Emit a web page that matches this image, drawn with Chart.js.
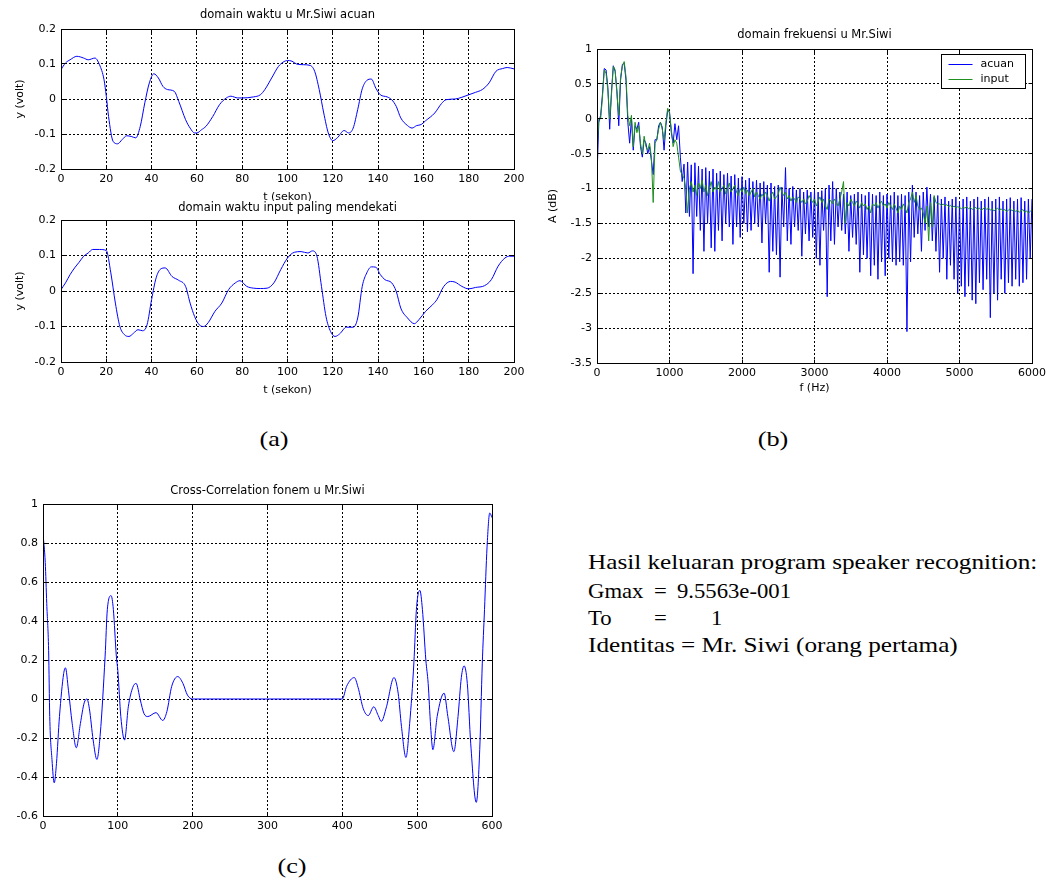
<!DOCTYPE html>
<html><head><meta charset="utf-8">
<script src="https://cdn.jsdelivr.net/npm/chart.js@4.4.0/dist/chart.umd.min.js"></script>
<style>
html,body{margin:0;padding:0;background:#fff;}
body{width:1050px;height:881px;position:relative;overflow:hidden;font-family:'Liberation Serif','Times New Roman',serif;color:#000;}
.box{position:absolute;}
.box canvas{display:block;}
.t{position:absolute;font-size:21px;line-height:28px;white-space:pre;transform-origin:0 50%;transform:scaleX(1.2);}
.t.n{transform:scaleX(1.08);}
.lab{position:absolute;font-size:21px;line-height:28px;white-space:pre;transform:translate(-50%,-50%) scaleX(1.25);}
</style></head>
<body>
<div class="box" id="wa1" style="left:0;top:0;width:530px;height:205px"><canvas id="ca1" width="530" height="205"></canvas></div>
<div class="box" id="wa2" style="left:0;top:201px;width:530px;height:196px;background:#fff"><canvas id="ca2" width="530" height="196"></canvas></div>
<div class="box" id="wb" style="left:540px;top:20px;width:510px;height:375px"><canvas id="cb" width="510" height="375"></canvas></div>
<div class="box" id="wc" style="left:0;top:476px;width:508px;height:364px"><canvas id="cc" width="508" height="364"></canvas></div>

<div class="lab" style="left:273.5px;top:439px">(a)</div>
<div class="lab" style="left:773px;top:439px">(b)</div>
<div class="lab" style="left:292px;top:866px">(c)</div>

<div class="t" style="left:588px;top:548px">Hasil keluaran program speaker recognition:</div>
<div class="t n" style="left:588px;top:577px">Gmax</div>
<div class="t n" style="left:654px;top:577px">=</div>
<div class="t n" style="left:677px;top:577px">9.5563e-001</div>
<div class="t n" style="left:588px;top:604px">To</div>
<div class="t n" style="left:654px;top:604px">=</div>
<div class="t n" style="left:711px;top:604px">1</div>
<div class="t" style="left:588px;top:631px">Identitas = Mr. Siwi (orang pertama)</div>

<script>
// ---------------- DATA ----------------
// (a) top: domain waktu u Mr.Siwi acuan
const tAcuan = [0,2,4,7,10,12,15,17,19,20,21,23,25,27,29,31,33,35,37,39,41,43,45,47,50,52,55,57,59,60,62,64,67,70,73,75,78,80,85,88,90,93,96,98,100,102,104,107,110,112,114,116,118,120,122,125,127,129,131,133,135,137,139,141,144,146,148,150,153,155,157,159,161,165,168,170,174,177,180,183,186,189,192,195,197,200];
const vAcuan = [0.084,0.103,0.112,0.122,0.117,0.112,0.117,0.098,0.055,0.008,-0.05,-0.121,-0.128,-0.116,-0.105,-0.107,-0.111,-0.078,-0.011,0.046,0.072,0.06,0.036,0.027,0.022,-0.007,-0.059,-0.083,-0.097,-0.097,-0.088,-0.078,-0.05,-0.016,0.003,0.008,0.003,0.003,0.006,0.012,0.027,0.06,0.093,0.105,0.11,0.108,0.1,0.098,0.096,0.079,0.027,-0.04,-0.097,-0.119,-0.111,-0.09,-0.097,-0.083,-0.03,0.029,0.053,0.057,0.031,0.012,0.006,-0.002,-0.021,-0.054,-0.076,-0.083,-0.076,-0.073,-0.062,-0.04,-0.013,-0.002,0,0.005,0.012,0.019,0.027,0.046,0.079,0.087,0.09,0.086];
// (a) bottom: domain waktu input paling mendekati
const tInput = [0,2,4,6,8,10,12,14,17,20,22,24,26,28,30,32,34,36,38,40,42,44,46,49,52,55,57,59,61,63,65,68,71,74,77,79,82,85,88,91,94,97,100,103,106,109,111,113,115,117,119,121,123,126,129,131,133,135,137,139,141,143,146,148,150,153,156,158,161,164,166,169,172,174,177,180,183,187,190,193,196,198,200];
const vInput = [0.004,0.023,0.046,0.065,0.081,0.098,0.107,0.117,0.117,0.114,0.051,-0.034,-0.1,-0.123,-0.128,-0.119,-0.109,-0.112,-0.095,-0.024,0.037,0.062,0.065,0.041,0.03,0.013,-0.034,-0.072,-0.095,-0.1,-0.089,-0.057,-0.034,0.004,0.023,0.029,0.013,0.008,0.007,0.008,0.023,0.06,0.093,0.109,0.111,0.107,0.113,0.098,0.013,-0.072,-0.114,-0.128,-0.121,-0.102,-0.102,-0.076,0.013,0.051,0.068,0.067,0.046,0.032,0.023,-0.001,-0.048,-0.076,-0.092,-0.081,-0.057,-0.039,-0.024,0.013,0.027,0.025,0.013,0.006,0.01,0.015,0.032,0.07,0.093,0.098,0.098];

// (b) domain frekuensi: frequency grid 0..6000 Hz, 25 Hz spacing
const freqStep = 25;
const specAcuan = [
-0.83,-0.05,0.05,0.35,0.72,0.70,0.45,-0.15,0.40,0.76,0.68,0.40,-0.10,0.55,0.78,0.80,0.55,-0.05,-0.35,0.00,-0.45,-0.10,-0.15,-0.05,-0.40,-0.55,-0.30,-0.35,-0.50,-0.40,-0.60,-0.80,-0.30,-0.30,-0.10,-0.05,-0.12,-0.45,-0.10,0.12,0.10,-0.20,-0.35,-0.07,-0.30,-0.10,-0.55,-0.90,
-0.65,-1.35,-0.62,-1.40,-0.66,-2.22,-0.63,-1.40,-0.68,-1.60,-0.72,-1.90,-0.70,-1.50,-0.75,-1.85,-0.72,-1.90,-0.78,-1.60,-0.75,-1.75,-0.80,-1.50,-0.78,-1.55,-0.82,-1.80,-0.80,-1.55,-0.85,-1.70,
-0.83,-1.50,-0.88,-1.62,-0.85,-1.60,-0.90,-1.50,-0.88,-1.55,-0.92,-1.78,-0.90,-1.50,-0.95,-2.20,-0.92,-1.90,-0.97,-1.95,-0.95,-2.27,-0.98,-1.55,-0.70,-1.75,-1.00,-1.80,-0.97,-1.55,-1.02,-1.60,-1.00,-1.97,-1.05,-1.65,-1.02,-1.75,-1.05,-1.70,
-1.02,-2.00,-1.05,-2.10,-1.03,-1.60,-1.00,-2.55,-0.95,-1.75,-0.90,-1.80,-1.00,-1.55,-1.05,-1.60,-1.08,-1.65,-1.05,-1.90,-1.10,-1.70,-1.08,-1.80,-1.05,-2.20,-1.08,-1.95,-1.10,-2.00,-1.05,-2.25,-1.08,-2.10,-1.10,-2.30,-1.05,-2.05,-1.10,-2.25,
-1.08,-2.00,-1.10,-2.05,-1.05,-2.10,-1.10,-2.05,-1.08,-2.10,-1.10,-3.05,-1.05,-2.05,-0.95,-1.70,-1.05,-1.65,-1.10,-1.90,-1.05,-1.60,-0.98,-1.55,-1.08,-1.75,-1.12,-1.90,-1.10,-2.20,-1.15,-2.00,-1.12,-2.30,-1.18,-2.10,-1.15,-2.30,-1.12,-2.50,
-1.18,-2.40,-1.15,-2.55,-1.12,-2.40,-1.18,-2.60,-1.15,-2.65,-1.12,-2.35,-1.18,-2.45,-1.15,-2.30,-1.12,-2.85,-1.18,-2.50,-1.15,-2.60,-1.12,-2.30,-1.18,-2.50,-1.15,-2.35,-1.13,-2.40,-1.18,-2.30,-1.15,-2.40,-1.13,-2.35,-1.18,-2.30,-1.15,-2.00,
-1.15];
const specInput = [
-0.45,0.0,0.0,0.30,0.70,0.65,0.40,0.0,0.35,0.75,0.70,0.35,0.05,0.60,0.75,0.82,0.60,0.05,-0.10,0.05,-0.40,-0.05,-0.20,-0.10,-0.35,-0.50,-0.25,-0.40,-0.45,-0.35,-0.55,-1.20,-0.35,-0.30,-0.15,-0.05,-0.15,-0.30,-0.05,0.15,0.08,-0.15,-0.40,-0.30,-0.35,-0.55,-0.75,-0.80,
-0.85,-1.00,-1.35,-1.00,-0.90,-1.05,-0.95,-1.10,-0.92,-1.00,-0.88,-1.05,-0.95,-1.10,-1.00,-0.90,-1.05,-0.98,-1.02,-0.90,-1.05,-1.00,-0.95,-1.08,-1.00,-0.92,-1.05,-1.00,-0.95,-1.05,-1.10,-1.00,
-1.05,-0.98,-1.08,-1.02,-1.10,-1.05,-1.00,-1.12,-1.05,-1.10,-1.15,-1.08,-1.12,-1.05,-1.10,-1.18,-1.10,-1.05,-1.15,-1.12,-1.08,-0.98,-1.05,-1.10,-1.05,-1.15,-1.10,-1.18,-1.12,-1.15,-1.20,-1.12,-1.15,-1.20,-1.15,-1.22,-1.18,-1.10,-1.15,-1.20,
-1.15,-1.25,-1.18,-1.12,-1.20,-1.15,-1.25,-1.30,-1.15,-1.18,-1.22,-1.15,-1.20,-1.25,-1.15,-1.05,-0.90,-1.50,-1.20,-1.25,-1.15,-1.20,-1.25,-1.18,-1.22,-1.28,-1.20,-1.25,-1.22,-1.30,-1.25,-1.35,-1.22,-1.25,-1.20,-1.28,-1.22,-1.18,-1.25,-1.22,
-1.28,-1.20,-1.25,-1.30,-1.22,-1.28,-1.35,-1.25,-1.30,-1.22,-1.28,-1.35,-1.20,-1.15,-1.05,-1.20,-1.10,-1.25,-1.30,-1.28,-1.35,-1.50,-1.25,-1.75,-1.20,-1.55,-1.10,-1.20,-1.22,-1.22,-1.24,-1.22,-1.25,-1.23,-1.26,-1.24,-1.27,-1.25,-1.28,-1.26,
-1.27,-1.29,-1.27,-1.28,-1.26,-1.29,-1.27,-1.30,-1.28,-1.27,-1.30,-1.28,-1.31,-1.29,-1.27,-1.30,-1.28,-1.31,-1.29,-1.32,-1.30,-1.28,-1.31,-1.29,-1.32,-1.30,-1.33,-1.31,-1.29,-1.32,-1.30,-1.33,-1.31,-1.34,-1.32,-1.30,-1.34,-1.32,-1.35,-1.33,
-1.30];

// (c) Cross-Correlation fonem u Mr.Siwi
const lagC = [0,3,5,7.5,9,12,15,18,22,27.6,30,34,39,44.5,50,55,58.7,62,67,72,76.5,83,86,91,94,98,100,104,109,114,120,124.5,130,135,140,151,160,165.5,172,180,187,193,200,300,400,405.7,416,421,428,434.6,442,448,452,459,469,474.6,479,485,490,495.6,499,503.6,507,511.6,514.7,518,521,526.7,536,541,549,554.6,559,562.7,567,571.6,579,583.6,587,590,593.4,597,600];
const corrC = [0.85,0.70,0.49,0.25,-0.09,-0.31,-0.43,-0.33,-0.09,0.13,0.16,0.045,-0.125,-0.25,-0.125,-0.02,0.0,-0.05,-0.21,-0.31,-0.18,0.22,0.46,0.53,0.46,0.22,0.145,-0.09,-0.21,-0.04,0.06,0.08,-0.005,-0.075,-0.09,-0.07,-0.11,-0.065,0.065,0.115,0.08,0.02,0,0,0,0.065,0.11,0.06,-0.05,-0.085,-0.04,-0.085,-0.115,-0.04,0.11,0.03,-0.14,-0.30,-0.125,0.185,0.46,0.557,0.46,0.20,0.08,-0.14,-0.26,-0.09,0.03,-0.09,-0.27,-0.09,0.11,0.17,0.08,-0.23,-0.53,-0.26,0.18,0.46,0.78,0.954,0.93];

// ---------------- RENDER ----------------
const FONT = "'DejaVu Sans', 'Liberation Sans', sans-serif";
Chart.defaults.font.family = FONT;
Chart.defaults.font.size = 11;
Chart.defaults.color = '#000';
Chart.defaults.animation = false;

const BLUE = '#0000ff';
const GREEN = '#1f8f1f';

function pairs(xs, ys) { return xs.map((x, i) => ({x: x, y: ys[i]})); }
function freqPairs(ys) { return ys.map((y, i) => ({x: i * freqStep, y: y})); }
const fmt = v => String(Math.round(v * 1000) / 1000);

const al = p => Math.round(p - 0.5) + 0.5;

const framePlugin = {
  id: 'matlabFrame',
  afterDraw(chart) {
    const {ctx, chartArea: a, scales} = chart;
    const L = al(a.left), R = al(a.right), T = al(a.top), B = al(a.bottom);
    ctx.save();
    ctx.strokeStyle = '#000'; ctx.lineWidth = 1; ctx.setLineDash([]);
    ctx.beginPath();
    scales.x.ticks.forEach(t => {
      const p = al(scales.x.getPixelForValue(t.value));
      ctx.moveTo(p, B); ctx.lineTo(p, B - 4);
      ctx.moveTo(p, T); ctx.lineTo(p, T + 4);
    });
    scales.y.ticks.forEach(t => {
      const p = al(scales.y.getPixelForValue(t.value));
      ctx.moveTo(L, p); ctx.lineTo(L + 4, p);
      ctx.moveTo(R, p); ctx.lineTo(R - 4, p);
    });
    ctx.stroke();
    ctx.strokeRect(L, T, R - L, B - T);
    ctx.restore();
  }
};

const boxLegend = {
  id: 'boxLegend',
  afterDraw(chart) {
    const {ctx, chartArea: a} = chart;
    const w = 84, h = 34;
    const bx = al(a.right - 91), by = al(a.top + 5);
    ctx.save();
    ctx.fillStyle = '#fff'; ctx.fillRect(bx, by, w, h);
    ctx.strokeStyle = '#000'; ctx.lineWidth = 1; ctx.setLineDash([]);
    ctx.strokeRect(bx, by, w, h);
    ctx.font = "11px " + FONT; ctx.textBaseline = 'middle'; ctx.textAlign = 'left';
    chart.data.datasets.forEach((ds, i) => {
      const yy = al(by + 9.5 + i * 15);
      ctx.strokeStyle = ds.borderColor;
      ctx.beginPath(); ctx.moveTo(bx + 7, yy); ctx.lineTo(bx + 31, yy); ctx.stroke();
      ctx.fillStyle = '#000';
      ctx.fillText(ds.label, bx + 39, yy);
    });
    ctx.restore();
  }
};

function xAxis(min, max, step, height, title, titlePadBottom) {
  return {
    type: 'linear', position: 'bottom', min: min, max: max,
    ticks: {stepSize: step, autoSkip: false, maxRotation: 0, padding: 4, color: '#000', font: {size: 11}, callback: fmt},
    grid: {color: '#000', lineWidth: 1, drawTicks: false},
    border: {display: false, dash: [2, 2]},
    title: title ? {display: true, text: title, color: '#000', font: {size: 11, lineHeight: 1.2}, padding: {top: 0, bottom: titlePadBottom}} : {display: false},
    afterFit(s) { s.height = height; }
  };
}
function yAxis(min, max, step, width, title, titlePadTop) {
  return {
    type: 'linear', position: 'left', min: min, max: max,
    ticks: {stepSize: step, autoSkip: false, padding: 5, color: '#000', font: {size: 11}, callback: fmt},
    grid: {color: '#000', lineWidth: 1, drawTicks: false},
    border: {display: false, dash: [2, 2]},
    title: title ? {display: true, text: title, color: '#000', font: {size: 11, lineHeight: 1.2}, padding: {top: titlePadTop, bottom: 0}} : {display: false},
    afterFit(s) { s.width = width; }
  };
}
function titleOpt(text, pt, pb) {
  return {display: true, text: text, color: '#000', fullSize: false,
    font: {size: 11.5, weight: 'normal', lineHeight: 1.2}, padding: {top: pt, bottom: pb}};
}

function lineDs(label, data, color, mode, order) {
  const ds = {label: label, data: data, borderColor: color, backgroundColor: color, borderWidth: 1,
    pointRadius: 0, fill: false, order: order || 0};
  if (mode === 'smooth') { ds.cubicInterpolationMode = 'monotone'; }
  else { ds.tension = 0; }
  return ds;
}

function baseOptions(title, x, y, padRight) {
  return {
    responsive: false, animation: false, events: [],
    layout: {padding: {top: 0, right: padRight, bottom: 0, left: 0}},
    plugins: {legend: {display: false}, tooltip: {enabled: false}, title: title},
    scales: {x: x, y: y}
  };
}

new Chart(document.getElementById('ca1'), {
  type: 'line',
  data: {datasets: [lineDs('acuan', pairs(tAcuan, vAcuan), BLUE, 'smooth')]},
  options: baseOptions(titleOpt('domain waktu u Mr.Siwi acuan', 8.1, 7.1),
    xAxis(0, 200, 20, 36, 't (sekon)', 1.4),
    yAxis(-0.2, 0.2, 0.1, 61, 'y (volt)', 13.4), 16),
  plugins: [framePlugin]
});

new Chart(document.getElementById('ca2'), {
  type: 'line',
  data: {datasets: [lineDs('input', pairs(tInput, vInput), BLUE, 'smooth')]},
  options: baseOptions(titleOpt('domain waktu input paling mendekati', 0, 5.2),
    xAxis(0, 200, 20, 35, 't (sekon)', 0.4),
    yAxis(-0.2, 0.2, 0.1, 61, 'y (volt)', 13.4), 16),
  plugins: [framePlugin]
});

if (specAcuan.length !== specInput.length) console.error('length mismatch', specAcuan.length, specInput.length);

new Chart(document.getElementById('cb'), {
  type: 'line',
  data: {datasets: [
    lineDs('acuan', freqPairs(specAcuan), BLUE, 'straight', 1),
    lineDs('input', freqPairs(specInput), GREEN, 'straight', 0)
  ]},
  options: baseOptions(titleOpt('domain frekuensi u Mr.Siwi', 8.1, 7.1),
    xAxis(0, 6000, 1000, 32, 'f (Hz)', 0.4),
    yAxis(-3.5, 1, 0.5, 57, 'A (dB)', 6.4), 17),
  plugins: [framePlugin, boxLegend]
});

new Chart(document.getElementById('cc'), {
  type: 'line',
  data: {datasets: [lineDs('Cross-Correlation', pairs(lagC, corrC), BLUE, 'smooth')]},
  options: baseOptions(titleOpt('Cross-Correlation fonem u Mr.Siwi', 8.1, 6.1),
    xAxis(0, 600, 100, 24, null, 0),
    yAxis(-0.6, 1, 0.2, 43, null, 0), 16),
  plugins: [framePlugin]
});
</script>
</body></html>
